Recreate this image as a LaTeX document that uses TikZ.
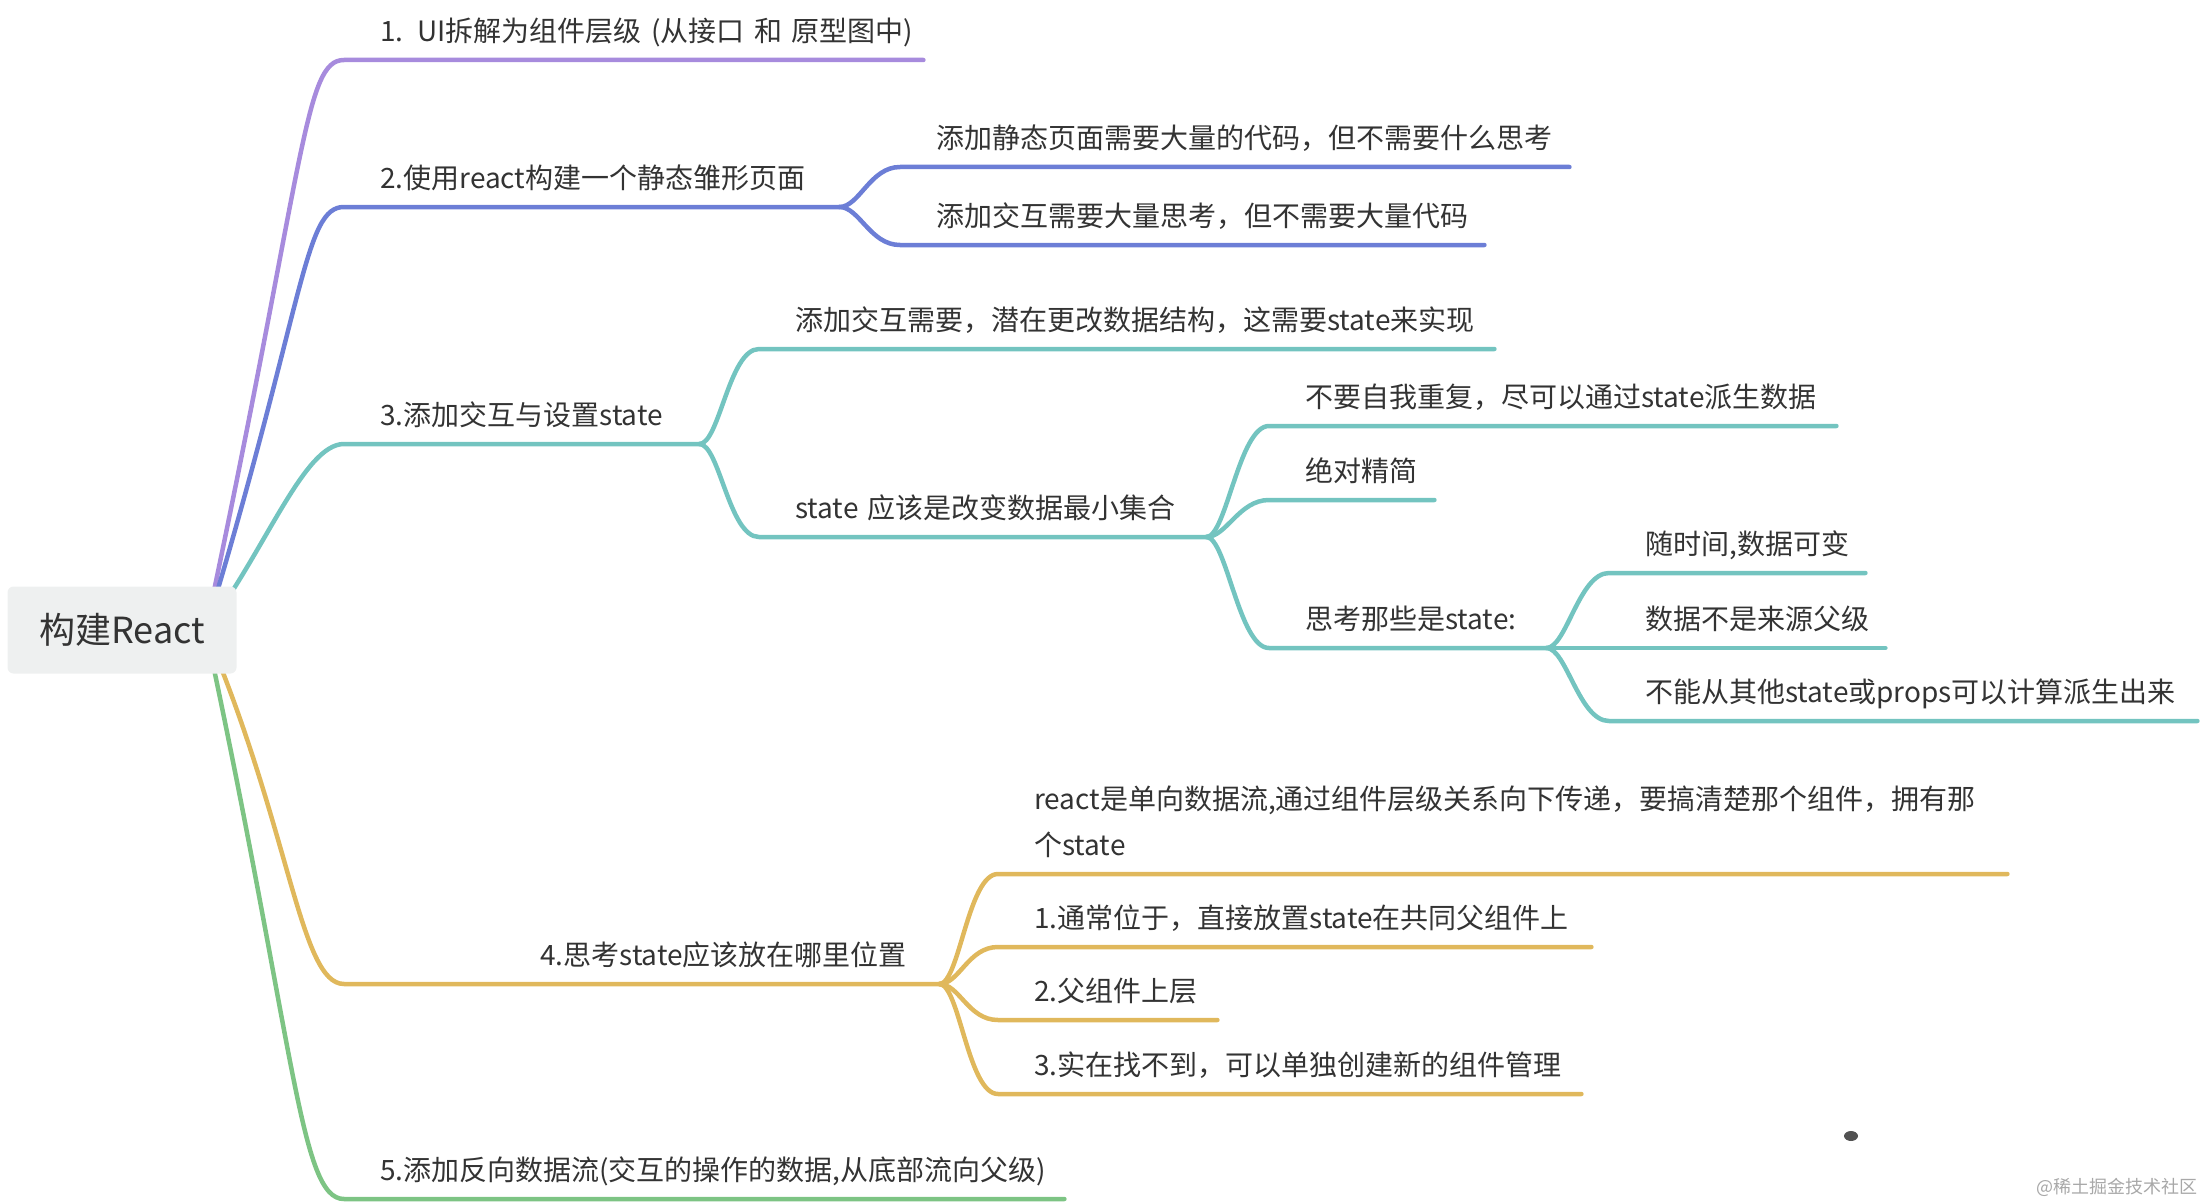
\documentclass[tikz,border=0pt]{standalone}
\usepackage{fontspec}
\setmainfont{Noto Sans CJK SC}
\usepackage{xcolor}
\usetikzlibrary{calc, backgrounds}

\definecolor{purpleline}{HTML}{A78BDD}
\definecolor{blueline}{HTML}{6C7ED6}
\definecolor{tealline}{HTML}{73C4C0}
\definecolor{yellowline}{HTML}{E0B85C}
\definecolor{greenline}{HTML}{7DC484}
\definecolor{rootfill}{HTML}{EEF0F0}
\definecolor{txtgray}{HTML}{333333}
\definecolor{markgray}{HTML}{A8A8A8}

\tikzset{
  root/.style={rectangle, rounded corners=6pt, fill=rootfill, minimum width=229pt,
    minimum height=87pt, font=\fontsize{36}{40}\selectfont, text=txtgray},
  topic/.style={anchor=south west, inner sep=0pt, align=left, text height=22pt,
    text depth=18pt, font=\fontsize{28}{46}\selectfont, text=txtgray,
    execute at begin node=\hspace*{36pt}},
  branch/.style={line width=4.5pt, line cap=round, line join=round}
}

\begin{document}
\begin{tikzpicture}[x=1pt, y=-1pt]
    \useasboundingbox (0,0) rectangle (2204,1204);

    % 中心主题
    \node[root] (root) at (122,630) {构建React};
    \coordinate (hub) at ($(root.east)+(-31,0)$);

    % 一级分支
    \node[topic, text width=579] (b1) at (344,60) {1. UI拆解为组件层级 (从接口 和 原型图中)};
    \node[topic, text width=495] (b2) at (344,207) {2.使用react构建一个静态雏形页面};
    \node[topic, text width=355] (b3) at (344,444) {3.添加交互与设置state};
    \node[topic, text width=595, execute at begin node=\hspace*{160pt}] (b4) at (344,984) {4.思考state应该放在哪里位置};
    \node[topic, text width=720] (b5) at (344,1199) {5.添加反向数据流(交互的操作的数据,从底部流向父级)};

    % 2 的子项
    \node[topic, text width=669] (b2a) at (900,167) {添加静态页面需要大量的代码，但不需要什么思考};
    \node[topic, text width=584] (b2b) at (900,245) {添加交互需要大量思考，但不需要大量代码};

    % 3 的子项
    \node[topic, text width=735] (b3a) at (759,349) {添加交互需要，潜在更改数据结构，这需要state来实现};
    \node[topic, text width=447] (b3b) at (759,537) {state 应该是改变数据最小集合};
    \node[topic, text width=567] (b3b1) at (1269,426) {不要自我重复，尽可以通过state派生数据};
    \node[topic, text width=165] (b3b2) at (1269,500) {绝对精简};
    \node[topic, text width=277] (b3b3) at (1269,648) {思考那些是state:};
    \node[topic, text width=256] (b3b3a) at (1609,573) {随时间,数据可变};
    \node[topic, text width=276] (b3b3b) at (1609,648) {数据不是来源父级};
    \node[topic, text width=588] (b3b3c) at (1609,721) {不能从其他state或props可以计算派生出来};

    % 4 的子项
    \node[topic, text width=1009, text depth=64pt] (b4a) at (998,874)
        {react是单向数据流,通过组件层级关系向下传递，要搞清楚那个组件，拥有那\\\hspace*{36pt}个state};
    \node[topic, text width=593] (b4b) at (998,947) {1.通常位于，直接放置state在共同父组件上};
    \node[topic, text width=219] (b4c) at (998,1020) {2.父组件上层};
    \node[topic, text width=583] (b4d) at (998,1094) {3.实在找不到，可以单独创建新的组件管理};

    % 连线
    \begin{scope}[on background layer]
        \draw[branch, purpleline] (hub) .. controls +(100,-470) and +(-40,0) .. (b1.south west) -- (b1.south east);
        \draw[branch, blueline] (hub) .. controls +(100,-330) and +(-40,0) .. (b2.south west) -- (b2.south east);
        \draw[branch, tealline] (hub) .. controls +(60,-80) and +(-40,0) .. (b3.south west) -- (b3.south east);
        \draw[branch, yellowline] (hub) .. controls +(85,200) and +(-44,0) .. (b4.south west) -- (b4.south east);
        \draw[branch, greenline] (hub) .. controls +(90,420) and +(-44,0) .. (b5.south west) -- (b5.south east);

        \foreach \c in {b2a,b2b}
            \draw[branch, blueline] (b2.south east) .. controls +(20,0) and +(-30,0) .. (\c.south west) -- (\c.south east);
        \foreach \c in {b3a,b3b}
            \draw[branch, tealline] (b3.south east) .. controls +(20,0) and +(-30,0) .. (\c.south west) -- (\c.south east);
        \foreach \c in {b3b1,b3b2,b3b3}
            \draw[branch, tealline] (b3b.south east) .. controls +(20,0) and +(-30,0) .. (\c.south west) -- (\c.south east);
        \foreach \c in {b3b3a,b3b3b,b3b3c}
            \draw[branch, tealline] (b3b3.south east) .. controls +(20,0) and +(-30,0) .. (\c.south west) -- (\c.south east);
        \foreach \c in {b4a,b4b,b4c,b4d}
            \draw[branch, yellowline] (b4.south east) .. controls +(20,0) and +(-30,0) .. (\c.south west) -- (\c.south east);
    \end{scope}

    % 其他
    \fill[txtgray!85] (1851,1136) ellipse (7 and 5);
    \node[anchor=east, inner sep=0pt, font=\fontsize{18}{20}\selectfont, text=markgray] (mark) at (2198,1187) {@稀土掘金技术社区};
\end{tikzpicture}
\end{document}
